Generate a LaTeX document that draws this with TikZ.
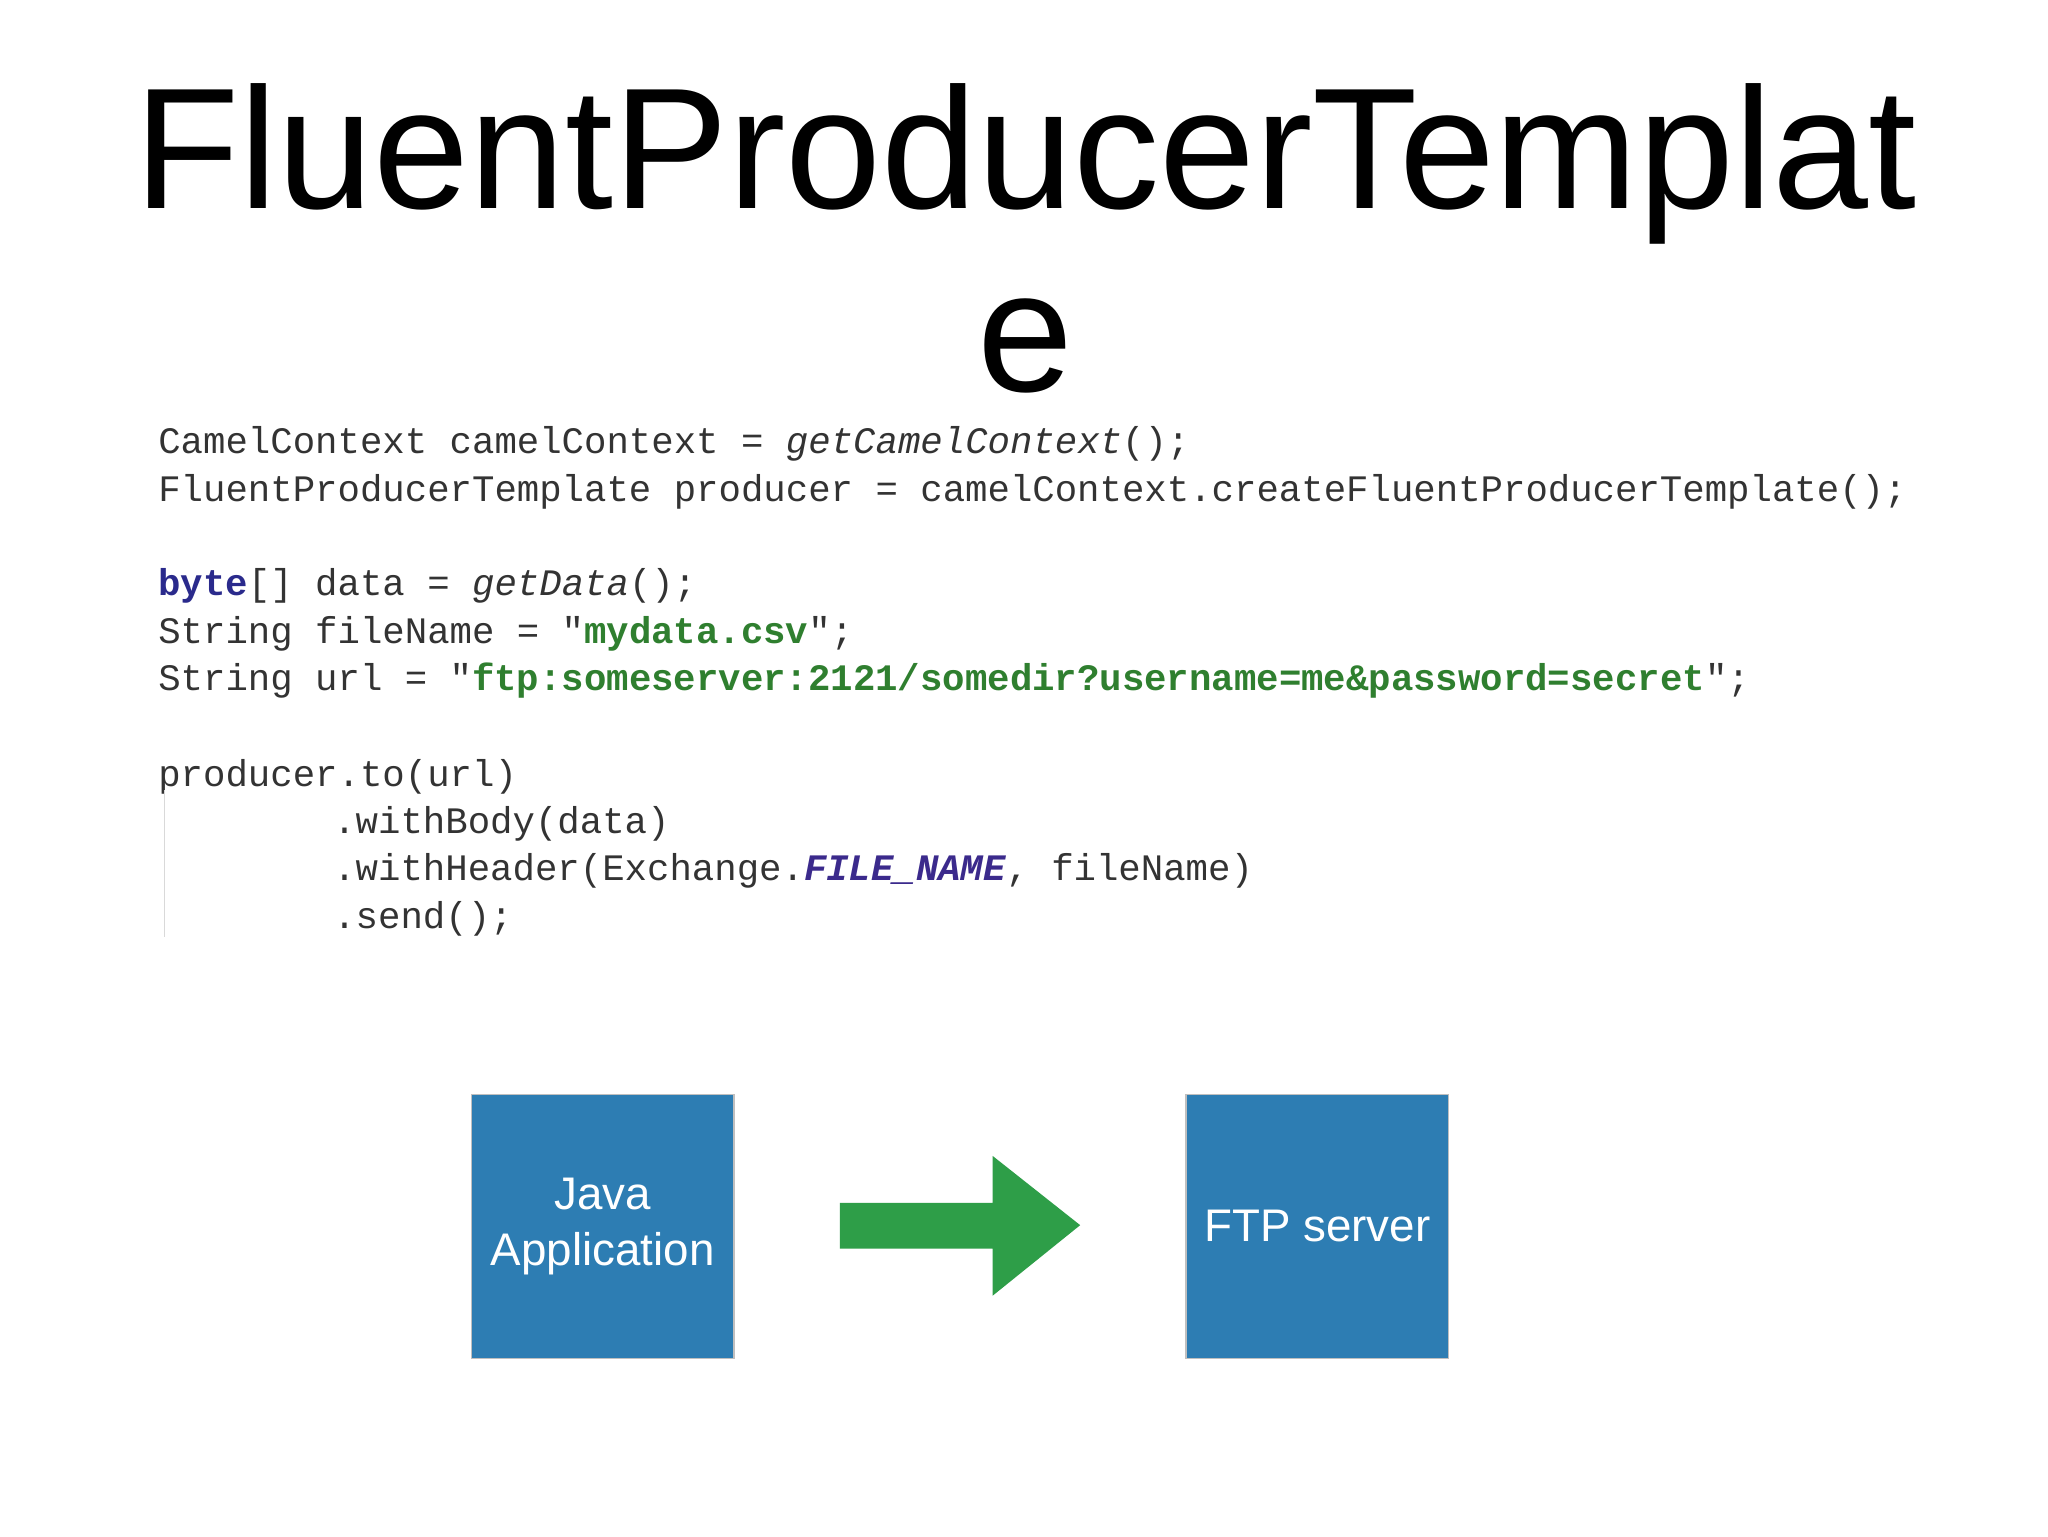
\documentclass[tikz,border=0pt]{standalone}
\usepackage{fontspec}
\setmainfont{Liberation Sans}
\setmonofont{Liberation Mono}
\begin{document}
\begin{tikzpicture}[x=1pt,y=-1pt,
  code/.style={anchor=base west,inner sep=0,font=\fontsize{28.6}{30}\ttfamily,text=black!80},
  box/.style={draw=black!25,line width=1pt,fill=boxblue,minimum width=201pt,minimum height=202pt,text=white,align=center,font=\fontsize{35}{43}\selectfont,inner sep=0}]
\definecolor{boxblue}{HTML}{2D7DB3}
\definecolor{arrowgreen}{HTML}{2E9E48}
\definecolor{kw}{HTML}{2A2A8C}
\definecolor{str}{HTML}{2F7F2F}
\definecolor{cst}{HTML}{3B2A8C}
\useasboundingbox (0,0) rectangle (1568,1176);
\fill[white] (0,0) rectangle (1568,1176);
\node[font=\fontsize{132}{150}\selectfont,inner sep=0,anchor=base] (t1) at (785,160) {FluentProducerTemplat};
\node[font=\fontsize{132}{150}\selectfont,inner sep=0,anchor=base] (t2) at (785,300) {e};
\node[code] (c1) at (121,347) {CamelContext camelContext = \textit{getCamelContext}();};
\node[code] (c2) at (121,384) {FluentProducerTemplate producer = camelContext.createFluentProducerTemplate();};
\node[code] (c3) at (121,456) {\textcolor{kw}{\textbf{byte}}[] data = \textit{getData}();};
\node[code] (c4) at (121,493) {String fileName = "\textcolor{str}{\textbf{mydata.csv}}";};
\node[code] (c5) at (121,529) {String url = "\textcolor{str}{\textbf{ftp:someserver:2121/somedir?username=me\&password=secret}}";};
\node[code] (c6) at (121,602) {producer.to(url)};
\node[code] (c7) at (255,638) {.withBody(data)};
\node[code] (c8) at (255,674) {.withHeader(Exchange.\textcolor{cst}{\textbf{\textit{FILE\_NAME}}}, fileName)};
\node[code] (c9) at (255,711) {.send();};
\draw[black!15,line width=1pt] (126,605) -- (126,717);
\node[box] (java) at (461.5,939) {Java\\Application};
\node[box] (ftp) at (1008.5,939) {FTP server};
\fill[arrowgreen] (643,921) -- (760,921) -- (760,885) -- (827,938) -- (760,992) -- (760,956) -- (643,956) -- cycle;
\end{tikzpicture}
\end{document}
